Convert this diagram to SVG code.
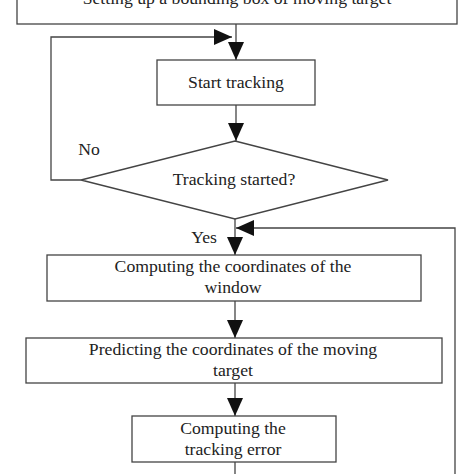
<svg xmlns="http://www.w3.org/2000/svg" width="474" height="474" viewBox="0 0 474 474">
<style>
.box{fill:#fff;stroke:#444;stroke-width:1.3}
.ln{fill:none;stroke:#444;stroke-width:1.3}
text{font-family:"Liberation Serif","Times New Roman",serif;font-size:17.7px;fill:#222;text-anchor:middle}
</style>
<defs>
<marker id="ah" markerUnits="userSpaceOnUse" markerWidth="18" markerHeight="16" refX="18" refY="8" orient="auto" viewBox="0 0 18 16">
<path d="M0,0 L18,8 L0,16 z" fill="#111"/>
</marker>
</defs>
<rect width="474" height="474" fill="#fff"/>
<g id="connectors">
<line class="ln" x1="236" y1="24" x2="236" y2="60" marker-end="url(#ah)"/>
<polyline class="ln" points="81,180 51,180 51,37 232,37" marker-end="url(#ah)"/>
<line class="ln" x1="236" y1="105" x2="236" y2="141" marker-end="url(#ah)"/>
<line class="ln" x1="235" y1="219" x2="235" y2="255" marker-end="url(#ah)"/>
<polyline class="ln" points="455,474 455,228 236,228" marker-end="url(#ah)"/>
<line class="ln" x1="235" y1="301" x2="235" y2="338" marker-end="url(#ah)"/>
<line class="ln" x1="235" y1="383" x2="235" y2="416" marker-end="url(#ah)"/>
<line class="ln" x1="235" y1="462" x2="235" y2="474"/>
<text x="89" y="155">No</text>
<text x="204" y="243">Yes</text>
</g>
<g id="n1">
<rect class="box" x="17" y="-20" width="440" height="44"/>
<text x="237" y="4">Setting up a bounding box of moving target</text>
</g>
<g id="n2">
<rect class="box" x="157" y="60" width="158" height="45"/>
<text x="236" y="88">Start tracking</text>
</g>
<g id="n3">
<polygon class="box" points="235,141 388,180 235,219 81,180"/>
<text x="234" y="185">Tracking started?</text>
</g>
<g id="n4">
<rect class="box" x="47" y="255" width="374" height="46"/>
<text x="233" y="272">Computing the coordinates of the</text>
<text x="233" y="293">window</text>
</g>
<g id="n5">
<rect class="box" x="26" y="338" width="416" height="45"/>
<text x="233" y="355">Predicting the coordinates of the moving</text>
<text x="233" y="376">target</text>
</g>
<g id="n6">
<rect class="box" x="132" y="416" width="204" height="46"/>
<text x="233" y="434">Computing the</text>
<text x="233" y="455">tracking error</text>
</g>
</svg>
